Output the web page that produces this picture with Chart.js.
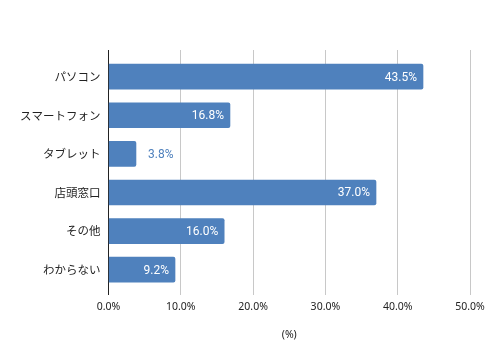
<!DOCTYPE html>
<html>
<head>
<meta charset="utf-8">
<script src="https://cdn.jsdelivr.net/npm/chart.js@4"></script>
<style>
  html, body { margin: 0; padding: 0; background: #fff; }
  #wrap { width: 488px; height: 360px; }
</style>
</head>
<body>
<div id="wrap"><canvas id="usage-chart"></canvas></div>
<script>
const categories = ["パソコン", "スマートフォン", "タブレット", "店頭窓口", "その他", "わからない"];
const shares = [43.5, 16.8, 3.8, 37.0, 16.0, 9.2];
const xTicks = [0, 10, 20, 30, 40, 50];

const barColor = "#4f81bd";
const labelFont = "12px 'Liberation Sans Narrow', Roboto, sans-serif";

const valueLabels = {
  id: "valueLabels",
  afterDatasetsDraw(chart) {
    const { ctx } = chart;
    const meta = chart.getDatasetMeta(0);
    ctx.save();
    ctx.font = labelFont;
    ctx.textBaseline = "middle";
    meta.data.forEach((bar, i) => {
      const text = shares[i].toFixed(1) + "%";
      const w = ctx.measureText(text).width;
      const barWidth = bar.x - bar.base;
      if (barWidth > w + 12) {
        ctx.fillStyle = "#fff";
        ctx.textAlign = "right";
        ctx.fillText(text, bar.x - 6, bar.y + 1);
      } else {
        ctx.fillStyle = barColor;
        ctx.textAlign = "left";
        ctx.fillText(text, bar.x + 12, bar.y + 1);
      }
    });
    ctx.restore();
  },
};

new Chart(document.getElementById("usage-chart"), {
  type: "bar",
  data: {
    datasets: [
      {
        data: shares.map((v, i) => ({ x: v, y: i })),
        backgroundColor: barColor,
        borderRadius: 2,
        borderSkipped: "start",
        barThickness: 25,
      },
    ],
  },
  options: {
    indexAxis: "y",
    responsive: true,
    maintainAspectRatio: false,
    animation: false,
    layout: { padding: { top: 50, right: 18, left: 12, bottom: 19 } },
    plugins: {
      legend: { display: false },
      tooltip: { enabled: false },
    },
    scales: {
      x: {
        type: "linear",
        min: 0,
        max: 50,
        afterBuildTicks: (axis) => {
          axis.ticks = xTicks.map((v) => ({ value: v }));
        },
        afterFit: (axis) => {
          axis.paddingRight = 0;
        },
        ticks: {
          color: "#222",
          font: { family: "'Noto Sans', sans-serif", size: 10.5 },
          padding: 6,
          callback: (v) => Number(v).toFixed(1) + "%",
        },
        grid: { color: "#c8c8c8", drawTicks: false },
        border: { display: false },
        title: {
          display: true,
          text: "(%)",
          color: "#222",
          font: { family: "'Noto Sans', sans-serif", size: 10.5 },
          padding: { top: 9, bottom: 0 },
        },
      },
      y: {
        type: "linear",
        reverse: true,
        offset: false,
        bounds: "data",
        min: -0.69,
        max: 5.65,
        afterBuildTicks: (axis) => {
          axis.ticks = categories.map((_, i) => ({ value: i }));
        },
        ticks: {
          color: "#222",
          font: { family: "'Noto Sans CJK JP', sans-serif", size: 11.5 },
          padding: 8,
          callback: (v) => categories[v] ?? "",
        },
        grid: { display: false, drawTicks: false, offset: false },
        border: { display: true, color: "#222", width: 1 },
      },
    },
  },
  plugins: [valueLabels],
});
</script>
</body>
</html>
